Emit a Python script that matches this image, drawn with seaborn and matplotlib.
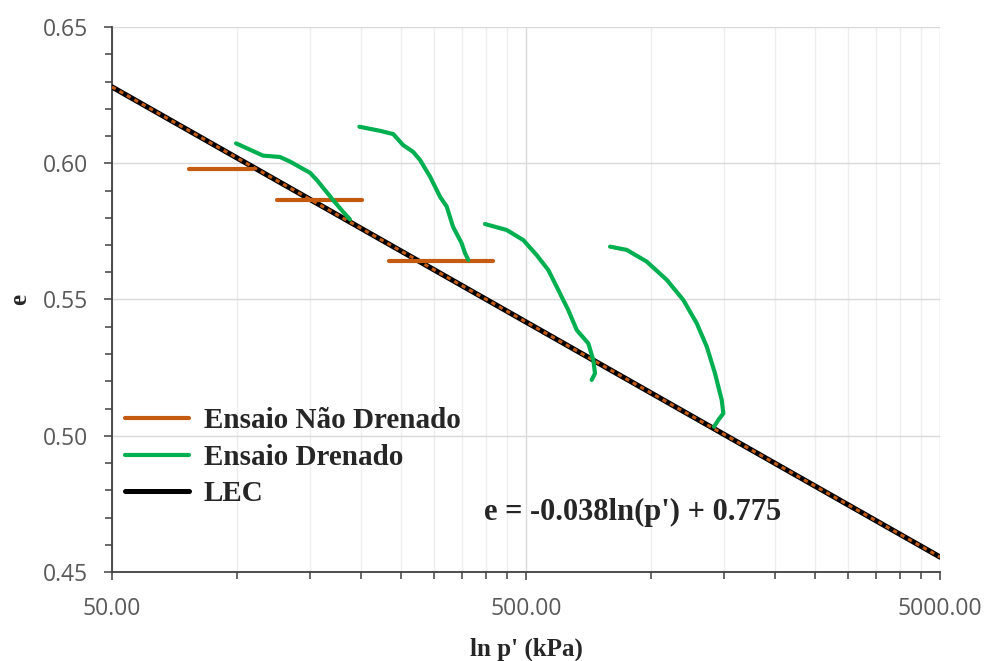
import numpy as np
import pandas as pd
import matplotlib
matplotlib.use("Agg")
import matplotlib.pyplot as plt
import seaborn as sns
from matplotlib.lines import Line2D
from matplotlib.ticker import FixedLocator, MultipleLocator, FuncFormatter, NullFormatter

# ---- data ----
# Undrained tests (horizontal segments): p' start, p' end, e
und_p_start = [76.7, 124.9, 233.8]
und_p_end = [109.5, 200.9, 416.9]
und_e = [0.5978, 0.5865, 0.5641]

# Drained tests (curves)
dr1_p = [99.7, 115.8, 127.3, 134.6, 150.4, 156.1, 171.0, 180.7, 187.8]
dr1_e = [0.6073, 0.6028, 0.6023, 0.6006, 0.5965, 0.5939, 0.5865, 0.5822, 0.5794]
dr2_p = [197.9, 222.0, 239.0, 252.3, 266.8, 277.3, 293.2, 310.0, 321.7, 333.2, 349.7, 356.2, 362.8]
dr2_e = [0.6134, 0.6119, 0.6107, 0.6067, 0.6042, 0.6012, 0.5951, 0.5877, 0.5841, 0.5767, 0.5706, 0.5670, 0.5645]
dr3_p = [398.1, 449.2, 492.5, 530.6, 566.1, 598.4, 632.6, 663.0, 707.0, 727.0, 734.0, 720.5]
dr3_e = [0.5777, 0.5755, 0.5718, 0.5663, 0.5608, 0.5535, 0.5461, 0.5388, 0.5339, 0.5278, 0.5229, 0.5205]
dr4_p = [798.0, 875.5, 978.5, 1094.0, 1199.5, 1292.0, 1366.5, 1430.5, 1485.0, 1498.5, 1457.5, 1422.5]
dr4_e = [0.5694, 0.5682, 0.5639, 0.5572, 0.5498, 0.5413, 0.5327, 0.5229, 0.5131, 0.5082, 0.5058, 0.5033]

# LEC line (critical state line)
lec_p = [50.0, 5000.0]
lec_e = [0.628, 0.4555]

legend_labels = ["Ensaio Não Drenado", "Ensaio Drenado", "LEC"]
equation = "e = -0.038ln(p') + 0.775"
xlabel = "ln p' (kPa)"
ylabel = "e"

# ---- style ----
sns.set_style("white")
plt.rcParams["font.family"] = ["Open Sans", "DejaVu Sans"]

ORANGE = "#C55A11"
GREEN = "#00B050"
BLACK = "#000000"
SERIF = ["Liberation Serif", "DejaVu Serif"]

fig = plt.figure(figsize=(9.84, 6.61), dpi=100)
ax = fig.add_axes([112 / 984, 1 - 572 / 661, (940 - 112) / 984, (572 - 27) / 661])

ax.set_xscale("log")
ax.set_xlim(50, 5000)
ax.set_ylim(0.45, 0.65)

# ticks / grid
ax.xaxis.set_major_locator(FixedLocator([50, 500, 5000]))
minor_x = []
for dec in [50, 500]:
    for k in range(2, 10):
        minor_x.append(dec * k)
ax.xaxis.set_minor_locator(FixedLocator(minor_x))
ax.xaxis.set_major_formatter(FuncFormatter(lambda v, pos: f"{v:.2f}"))
ax.xaxis.set_minor_formatter(NullFormatter())
ax.yaxis.set_major_locator(MultipleLocator(0.05))
ax.yaxis.set_minor_locator(MultipleLocator(0.01))
ax.yaxis.set_major_formatter(FuncFormatter(lambda v, pos: f"{v:.2f}"))

ax.grid(True, which="major", axis="y", color="#d9d9d9", lw=1.0)
ax.grid(True, which="major", axis="x", color="#d9d9d9", lw=1.0)
ax.grid(True, which="minor", axis="x", color="#eeeeee", lw=1.0)
ax.set_axisbelow(True)

# LEC line (black with orange dotted overlay)
lec_df = pd.DataFrame({"p": lec_p, "e": lec_e})
sns.lineplot(data=lec_df, x="p", y="e", ax=ax, color=BLACK, lw=3.8, sort=False, estimator=None, zorder=3)
sns.lineplot(data=lec_df, x="p", y="e", ax=ax, color=ORANGE, lw=2.2, sort=False, estimator=None,
             zorder=4, linestyle=(0, (1.4, 1.4)))

# undrained segments
for ps, pe, e in zip(und_p_start, und_p_end, und_e):
    d = pd.DataFrame({"p": [ps, pe], "e": [e, e]})
    sns.lineplot(data=d, x="p", y="e", ax=ax, color=ORANGE, lw=3, sort=False, estimator=None, zorder=5)

# drained curves
for pp, ee in [(dr1_p, dr1_e), (dr2_p, dr2_e), (dr3_p, dr3_e), (dr4_p, dr4_e)]:
    d = pd.DataFrame({"p": pp, "e": ee})
    sns.lineplot(data=d, x="p", y="e", ax=ax, color=GREEN, lw=3, sort=False, estimator=None, zorder=6)

# spines & ticks
for s in ["top", "right"]:
    ax.spines[s].set_visible(False)
for s in ["left", "bottom"]:
    ax.spines[s].set_color("#404040")
    ax.spines[s].set_linewidth(1.3)
ax.tick_params(axis="both", which="both", left=True, bottom=True, direction="out", color="#404040", width=1.1)
ax.tick_params(axis="both", which="major", length=6, labelsize=16.5, labelcolor="#595959")
ax.tick_params(axis="both", which="minor", length=5)
ax.tick_params(axis="x", which="major", pad=12)
ax.tick_params(axis="y", which="major", pad=11)

ax.set_xlabel(xlabel, family=SERIF, fontweight="bold", fontsize=18)
ax.set_ylabel(ylabel, family=SERIF, fontweight="bold", fontsize=18)
ax.xaxis.set_label_coords(0.5, -0.12)
ax.yaxis.set_label_coords(-0.098, 0.5)

# legend
handles = [Line2D([], [], color=ORANGE, lw=3),
           Line2D([], [], color=GREEN, lw=3),
           Line2D([], [], color=BLACK, lw=3.6)]
leg = ax.legend(handles, legend_labels, loc="upper left", bbox_to_anchor=(-0.009, 0.34),
                frameon=False, prop={"family": SERIF, "weight": "bold", "size": 21},
                handlelength=2.2, handletextpad=0.5, labelspacing=0.33, borderaxespad=0.3)

ax.text(0.449, 0.110, equation, transform=ax.transAxes, family=SERIF, fontweight="bold",
        fontsize=22, ha="left", va="center")

fig.savefig("out.png", dpi=100)
